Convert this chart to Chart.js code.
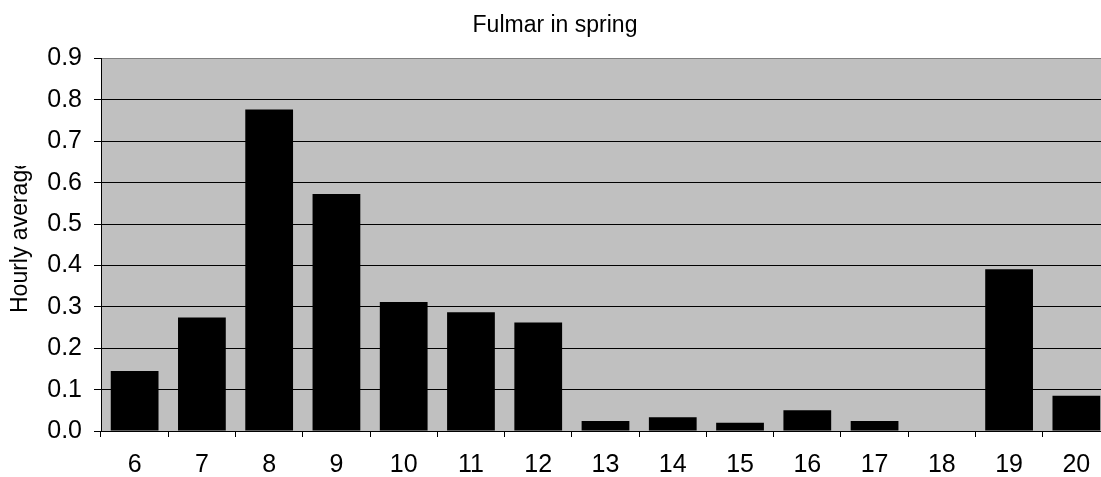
<!DOCTYPE html>
<html>
<head>
<meta charset="utf-8">
<script src="https://cdn.jsdelivr.net/npm/chart.js@4/dist/chart.umd.min.js"></script>
<style>
  html, body { margin: 0; padding: 0; background: #fff; overflow: hidden; }
  #wrap { width: 1118px; height: 477px; }
</style>
</head>
<body>
<div id="wrap"><canvas id="chart"></canvas></div>
<script>
const hours = ["6", "7", "8", "9", "10", "11", "12", "13", "14", "15", "16", "17", "18", "19", "20"];
const hourlyAverage = [0.145, 0.274, 0.777, 0.573, 0.312, 0.287, 0.262, 0.024, 0.033, 0.02, 0.05, 0.024, 0, 0.391, 0.085];
const yTicks = [0, 0.1, 0.2, 0.3, 0.4, 0.5, 0.6, 0.7, 0.8, 0.9];
const yTitle = "Hourly average";

const font = "'Liberation Sans', Arial, sans-serif";

// grey plot background like the old spreadsheet charts
const plotBackground = {
  id: "plotBackground",
  beforeDraw(chart) {
    const { ctx, chartArea } = chart;
    ctx.save();
    ctx.fillStyle = "#c0c0c0";
    ctx.fillRect(chartArea.left, chartArea.top, chartArea.right - chartArea.left, chartArea.bottom - chartArea.top);
    ctx.restore();
  }
};

// y title is cut off at the top in the original, so draw it by hand with a clip
const clippedYTitle = {
  id: "clippedYTitle",
  afterDraw(chart) {
    const { ctx } = chart;
    ctx.save();
    ctx.beginPath();
    ctx.rect(0, 166, 60, 300);
    ctx.clip();
    ctx.translate(27, 313);
    ctx.rotate(-Math.PI / 2);
    ctx.font = "23px " + font;
    ctx.fillStyle = "#000";
    ctx.textAlign = "left";
    ctx.textBaseline = "alphabetic";
    ctx.fillText(yTitle, 0, 0);
    ctx.restore();
  }
};

new Chart(document.getElementById("chart"), {
  type: "bar",
  data: {
    labels: hours,
    datasets: [{
      label: yTitle,
      data: hourlyAverage,
      backgroundColor: "#000",
      borderWidth: 0,
      barPercentage: 0.71,
      categoryPercentage: 1
    }]
  },
  options: {
    responsive: true,
    maintainAspectRatio: false,
    animation: false,
    layout: { padding: { left: 0, right: 8, top: 0, bottom: 0 } },
    plugins: {
      legend: { display: false },
      tooltip: { enabled: false },
      title: {
        display: true,
        text: "Fulmar in spring",
        color: "#000",
        font: { family: font, size: 23, weight: "normal" },
        padding: { top: 12, bottom: 19 }
      }
    },
    scales: {
      x: {
        offset: true,
        afterFit(scale) {
          scale.height = 46;
        },
        grid: { drawOnChartArea: false, color: "#000", tickLength: 6, offset: true },
        border: { color: "#000" },
        ticks: {
          color: "#000",
          padding: 16,
          font: { family: font, size: 25, lineHeight: 1 },
          maxRotation: 0,
          autoSkip: false
        }
      },
      y: {
        min: 0,
        max: 0.9,
        afterFit(scale) {
          scale.width = 101;
        },
        afterBuildTicks(axis) {
          axis.ticks = yTicks.map(v => ({ value: v }));
        },
        grid: {
          color: ctx => (ctx.tick && ctx.tick.value === 0.9 ? "#808080" : "#000"),
          tickColor: "#000",
          tickLength: 7
        },
        border: { color: "#000" },
        ticks: {
          color: "#000",
          padding: 12,
          font: { family: font, size: 25 },
          callback: v => Number(v).toFixed(1)
        }
      }
    }
  },
  plugins: [plotBackground, clippedYTitle]
});
</script>
</body>
</html>
